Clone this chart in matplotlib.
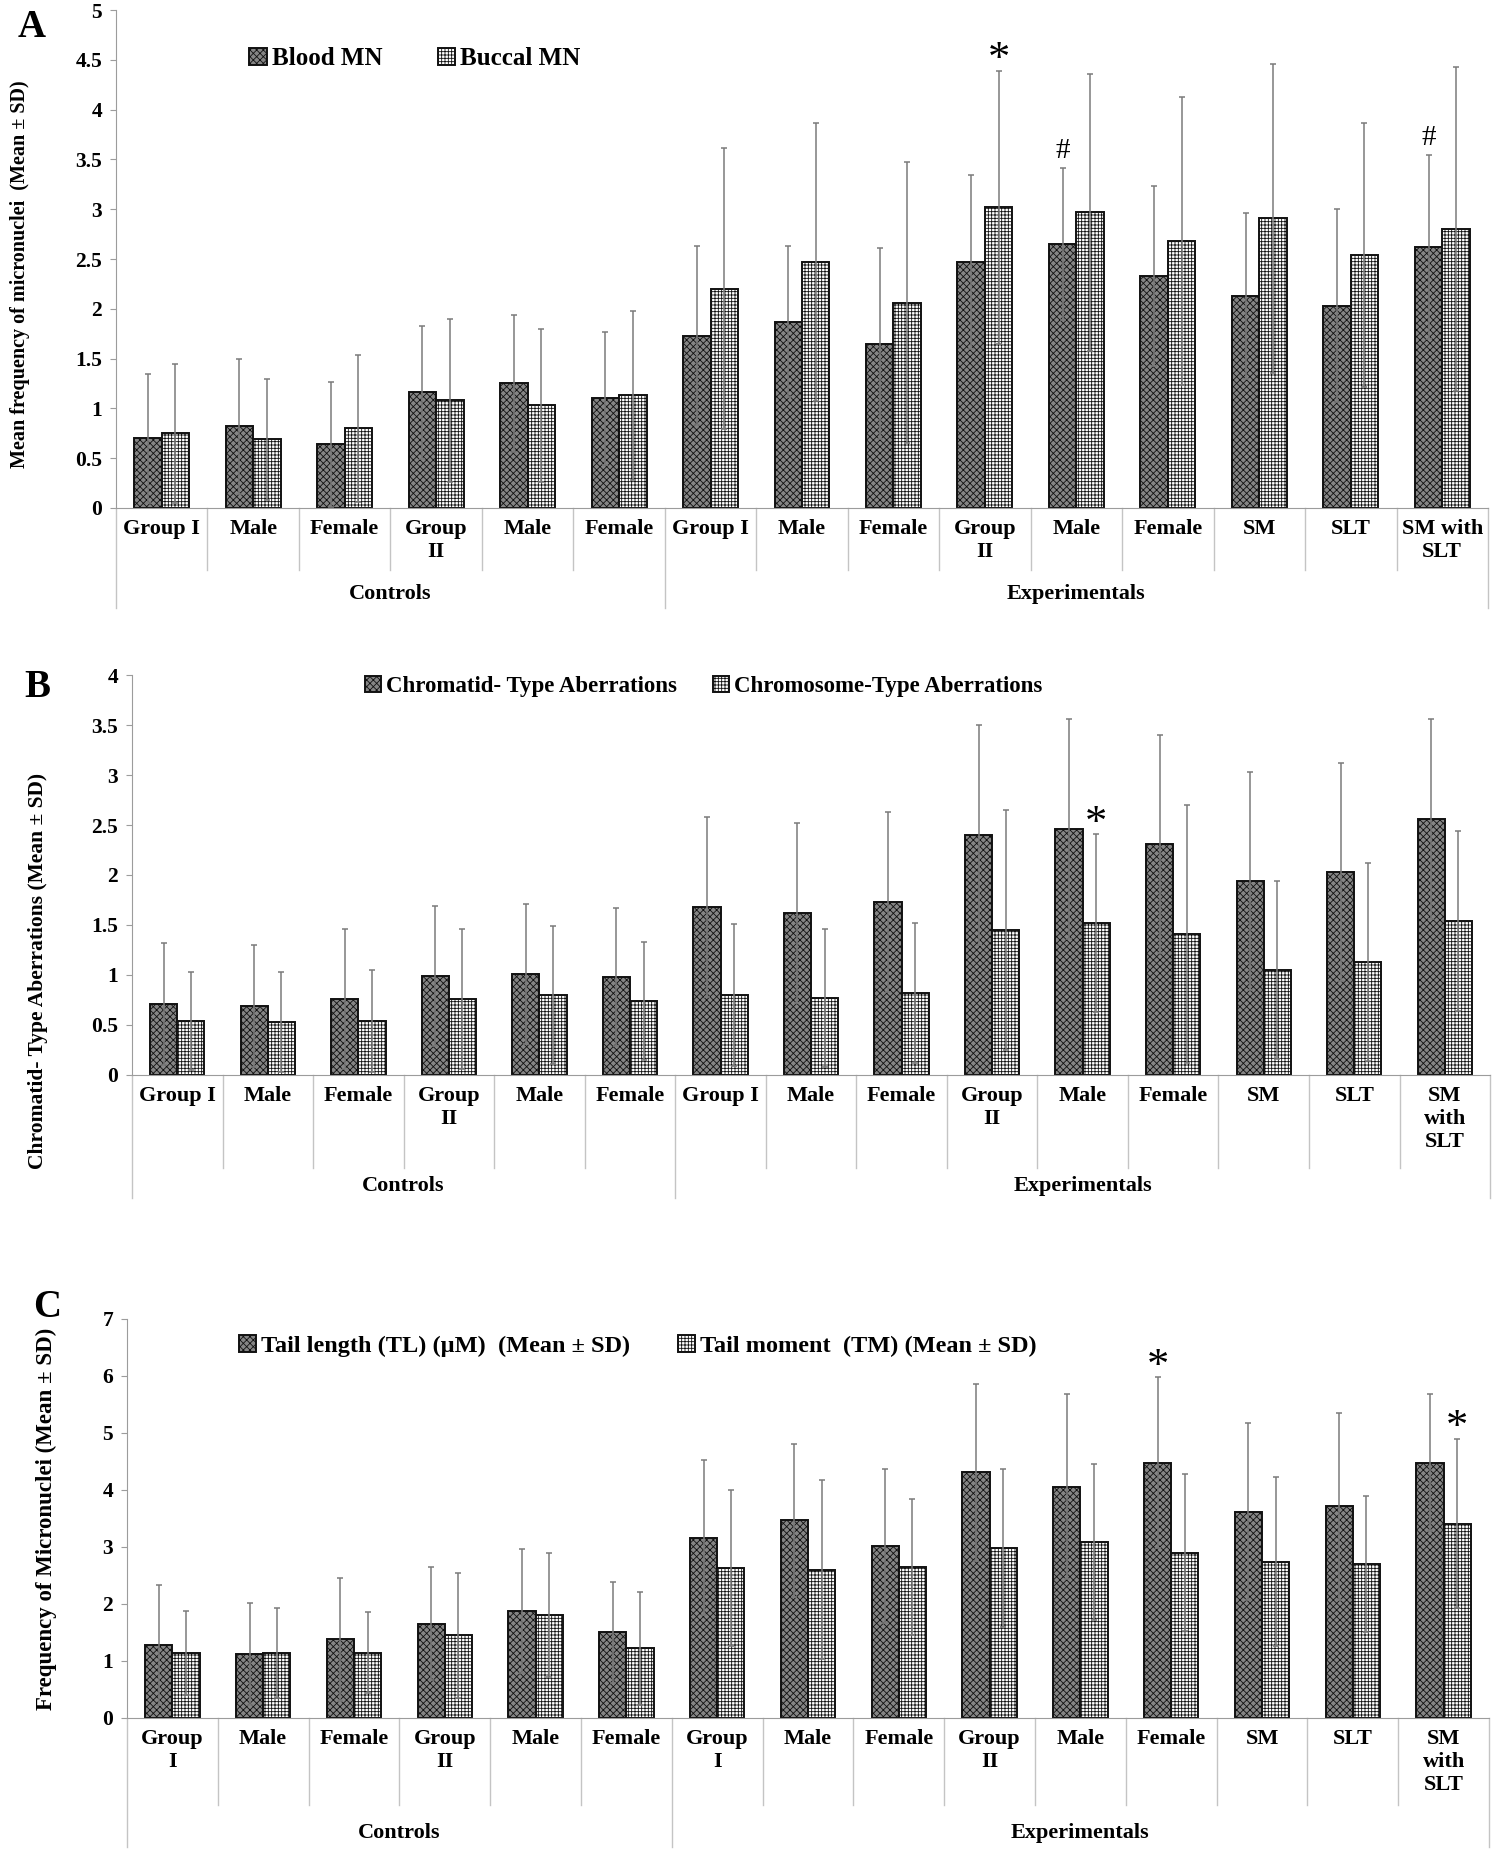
import numpy as np
import matplotlib
matplotlib.use("Agg")
import matplotlib.pyplot as plt
import matplotlib.transforms as mtransforms

plt.rcParams['font.family'] = ['Liberation Serif', 'DejaVu Serif']
plt.rcParams['font.weight'] = 'bold'
plt.rcParams['axes.labelweight'] = 'bold'
plt.rcParams['hatch.linewidth'] = 0.6

# ---- data ----
labels_A = ['Group I', 'Male', 'Female', 'Group\nII', 'Male', 'Female', 'Group I', 'Male', 'Female',
            'Group\nII', 'Male', 'Female', 'SM', 'SLT', 'SM with\nSLT']
labels_B = ['Group I', 'Male', 'Female', 'Group\nII', 'Male', 'Female', 'Group I', 'Male', 'Female',
            'Group\nII', 'Male', 'Female', 'SM', 'SLT', 'SM\nwith\nSLT']
labels_C = ['Group\nI', 'Male', 'Female', 'Group\nII', 'Male', 'Female', 'Group\nI', 'Male', 'Female',
            'Group\nII', 'Male', 'Female', 'SM', 'SLT', 'SM\nwith\nSLT']
groups = ['Controls', 'Experimentals']

blood_mn = [0.70, 0.82, 0.64, 1.16, 1.25, 1.10, 1.73, 1.87, 1.65, 2.47, 2.65, 2.33, 2.13, 2.03, 2.62]
blood_sd = [0.65, 0.68, 0.63, 0.67, 0.69, 0.67, 0.90, 0.76, 0.96, 0.87, 0.76, 0.90, 0.83, 0.97, 0.92]
buccal_mn = [0.75, 0.69, 0.80, 1.08, 1.03, 1.13, 2.20, 2.47, 2.06, 3.02, 2.97, 2.68, 2.91, 2.54, 2.80]
buccal_sd = [0.70, 0.61, 0.74, 0.82, 0.77, 0.85, 1.41, 1.40, 1.41, 1.37, 1.39, 1.45, 1.55, 1.33, 1.63]

chromatid = [0.71, 0.69, 0.76, 0.99, 1.01, 0.98, 1.68, 1.62, 1.73, 2.40, 2.46, 2.31, 1.94, 2.03, 2.56]
chromatid_sd = [0.61, 0.61, 0.70, 0.70, 0.70, 0.69, 0.90, 0.90, 0.90, 1.10, 1.10, 1.09, 1.09, 1.09, 1.00]
chromosome = [0.54, 0.53, 0.54, 0.76, 0.80, 0.74, 0.80, 0.77, 0.82, 1.45, 1.52, 1.41, 1.05, 1.13, 1.54]
chromosome_sd = [0.49, 0.50, 0.51, 0.70, 0.69, 0.59, 0.71, 0.69, 0.70, 1.20, 0.89, 1.29, 0.89, 0.99, 0.90]

tail_length = [1.28, 1.12, 1.38, 1.65, 1.87, 1.50, 3.16, 3.47, 3.01, 4.31, 4.06, 4.48, 3.62, 3.71, 4.48]
tail_length_sd = [1.06, 0.89, 1.08, 0.99, 1.09, 0.88, 1.36, 1.34, 1.35, 1.55, 1.63, 1.50, 1.55, 1.64, 1.20]
tail_moment = [1.14, 1.14, 1.14, 1.45, 1.80, 1.22, 2.63, 2.60, 2.65, 2.98, 3.09, 2.90, 2.74, 2.70, 3.41]
tail_moment_sd = [0.73, 0.79, 0.71, 1.10, 1.09, 0.99, 1.37, 1.57, 1.19, 1.38, 1.37, 1.38, 1.48, 1.19, 1.49]

# significance marks: (category index, series index, symbol)
marks_A = [(9, 1, '*'), (10, 0, '#'), (14, 0, '#')]
marks_B = [(10, 1, '*')]
marks_C = [(11, 0, '*'), (14, 1, '*')]

fig = plt.figure(figsize=(14.95, 18.54), dpi=100)

GRAY = '#9c9c9c'


def draw_panel(ax, labels, s1, e1, s2, e2, names, ymax, ystep, marks,
               short_len, long_len, group_y, leg_anchor, leg_size, colspace):
    x = np.arange(len(labels))
    w = 0.3
    ax.bar(x - w / 2, s1, w, color='#858585', edgecolor='#111111', hatch='xxxxx',
           linewidth=1.4, label=names[0], zorder=2)
    ax.bar(x + w / 2, s2, w, color='white', edgecolor='#111111', hatch='+++++',
           linewidth=1.4, label=names[1], zorder=2)
    ax.errorbar(x - w / 2, s1, yerr=e1, fmt='none', ecolor='#7a7a7a', elinewidth=1.1,
                capsize=2.5, capthick=1.1, zorder=3)
    ax.errorbar(x + w / 2, s2, yerr=e2, fmt='none', ecolor='#7a7a7a', elinewidth=1.1,
                capsize=2.5, capthick=1.1, zorder=3)

    means = [s1, s2]
    sds = [e1, e2]
    for cat, ser, sym in marks:
        xx = x[cat] + (w / 2 if ser else -w / 2)
        top = means[ser][cat] + sds[ser][cat]
        if sym == '*':
            ax.annotate('*', (xx, top), xytext=(0, -7), textcoords='offset points',
                        ha='center', va='bottom', fontsize=32, fontweight='normal')
        else:
            ax.annotate('#', (xx, top), xytext=(0, 3), textcoords='offset points',
                        ha='center', va='bottom', fontsize=21, fontweight='normal')

    ax.set_xlim(-0.5, len(labels) - 0.5)
    ax.set_ylim(0, ymax)
    ticks = np.arange(0, ymax + ystep / 2, ystep)
    ax.set_yticks(ticks)
    ax.set_yticklabels([f'{v:g}' for v in ticks])
    ax.tick_params(axis='y', length=4, color=GRAY, labelsize=15.5, pad=6)
    ax.set_xticks(x)
    ax.set_xticklabels(labels, fontsize=16, linespacing=1.2)
    ax.tick_params(axis='x', length=0, pad=8)
    for s in ['top', 'right']:
        ax.spines[s].set_visible(False)
    ax.spines['left'].set_color(GRAY)
    ax.spines['bottom'].set_color(GRAY)

    trans = mtransforms.blended_transform_factory(ax.transData, ax.transAxes)
    for b in np.arange(0.5, len(labels) - 1, 1.0):
        ln = long_len if b == 5.5 else short_len
        ax.plot([b, b], [0, -ln], transform=trans, color='#c4c4c4', lw=1, clip_on=False)
    for b in [-0.5, len(labels) - 0.5]:
        ax.plot([b, b], [0, -long_len], transform=trans, color='#c4c4c4', lw=1, clip_on=False)
    ax.text(2.5, group_y, groups[0], transform=trans, ha='center', va='center', fontsize=16)
    ax.text(10, group_y, groups[1], transform=trans, ha='center', va='center', fontsize=16)

    ax.legend(loc='upper left', bbox_to_anchor=leg_anchor, ncol=2, frameon=False,
              fontsize=leg_size, handlelength=0.7, handleheight=0.7, handletextpad=0.2,
              columnspacing=colspace, borderaxespad=0)


axA = fig.add_axes([0.0776, 0.726, 0.9177, 0.2686])
draw_panel(axA, labels_A, blood_mn, blood_sd, buccal_mn, buccal_sd,
           ['Blood MN', 'Buccal MN'], 5, 0.5, marks_A,
           0.125, 0.2, -0.173, (0.09, 0.945), 18, 2.2)
axA.set_ylabel('Mean frequency of micronuclei  (Mean ± SD)', fontsize=14.5)
axA.yaxis.set_label_coords(-0.063, 0.47)

axB = fig.add_axes([0.0883, 0.4202, 0.9084, 0.2157])
draw_panel(axB, labels_B, chromatid, chromatid_sd, chromosome, chromosome_sd,
           ['Chromatid- Type Aberrations', 'Chromosome-Type Aberrations'], 4, 0.5, marks_B,
           0.232, 0.307, -0.277, (0.165, 1.02), 16.5, 1.6)
axB.set_ylabel('Chromatid- Type Aberrations (Mean ± SD)', fontsize=15.5)
axB.yaxis.set_label_coords(-0.062, 0.26)

axC = fig.add_axes([0.0849, 0.0734, 0.9111, 0.2152])
draw_panel(axC, labels_C, tail_length, tail_length_sd, tail_moment, tail_moment_sd,
           ['Tail length (TL) (µM)  (Mean ± SD)', 'Tail moment  (TM) (Mean ± SD)'], 7, 1, marks_C,
           0.218, 0.323, -0.288, (0.075, 0.985), 17.5, 2.0)
axC.set_ylabel('Frequency of Micronuclei (Mean ± SD)', fontsize=16.5)
axC.yaxis.set_label_coords(-0.051, 0.5)

fig.text(0.012, 0.985, 'A', fontsize=28, ha='left', va='center')
fig.text(0.016, 0.629, 'B', fontsize=28, ha='left', va='center')
fig.text(0.022, 0.295, 'C', fontsize=28, ha='left', va='center')

fig.savefig('out.png', dpi=100)
